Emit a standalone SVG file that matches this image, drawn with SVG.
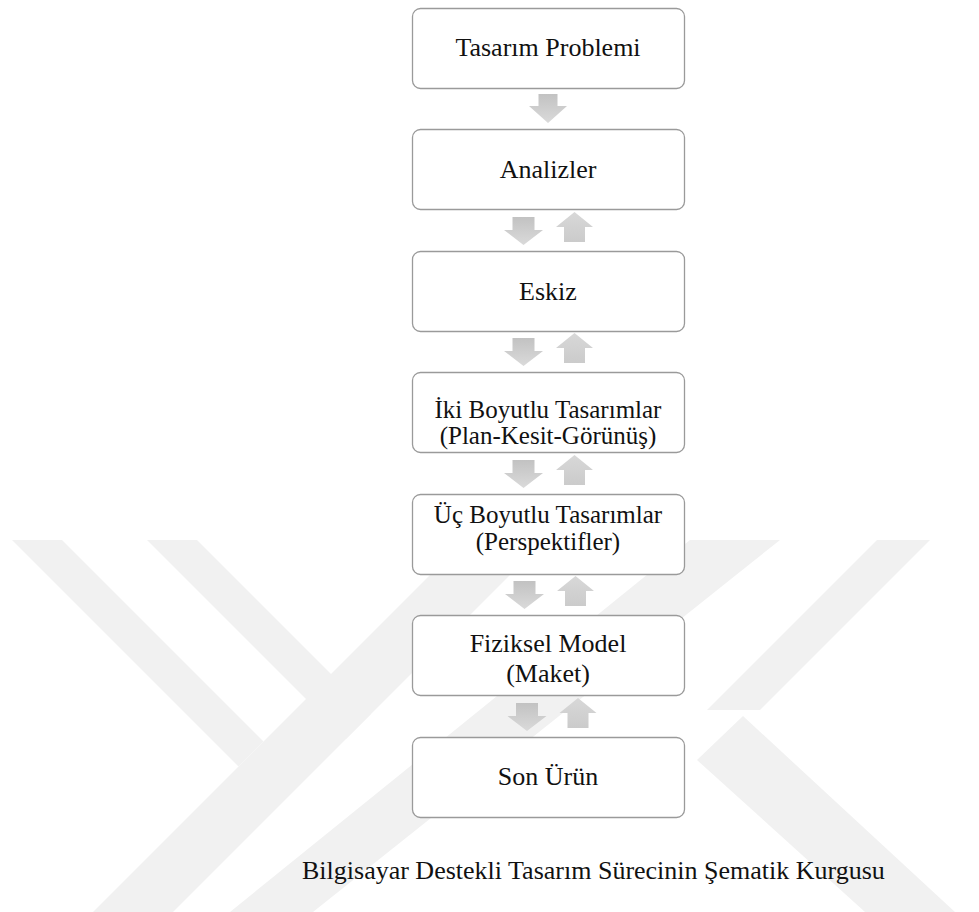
<svg xmlns="http://www.w3.org/2000/svg" width="979" height="912" viewBox="0 0 979 912">
<style>
.box{fill:#fff;stroke:#9a9a9a;stroke-width:1.3}
.t{font-family:"Liberation Serif","Times New Roman",serif;font-size:26px;fill:#111;text-anchor:middle}
.t2{font-family:"Liberation Serif","Times New Roman",serif;font-size:25px;fill:#111;text-anchor:middle}
.cap{font-family:"Liberation Serif","Times New Roman",serif;font-size:26px;fill:#111}
.wm{fill:#f1f1f1}
</style>
<defs>
<linearGradient id="gd" x1="0" y1="0" x2="0" y2="1"><stop offset="0" stop-color="#c2c2c2"/><stop offset="1" stop-color="#dadada"/></linearGradient>
<linearGradient id="gu" x1="0" y1="0" x2="0" y2="1"><stop offset="0" stop-color="#d8d8d8"/><stop offset="1" stop-color="#cbcbcb"/></linearGradient>
<path id="dn" d="M-11,0 H11 V13 H19.5 L0,28 L-19.5,13 H-11 Z" fill="url(#gd)"/>
<path id="up" d="M0,0 L18.5,15 H10.5 V30 H-10.5 V15 H-18.5 Z" fill="url(#gu)"/>
</defs>
<rect width="979" height="912" fill="#fff"/>
<g id="watermark">
<path class="wm" d="M12,540 H62 L263.5,741.5 L238.5,766.5 Z"/>
<path class="wm" d="M147,540 H197 L371,714 L346,739 Z"/>
<path class="wm" d="M93,912 L465,540 H545 L173,912 Z"/>
<path class="wm" d="M230,912 L690,540 H780 L313,912 Z"/>
<path class="wm" d="M877,540 H930 L760,710 L707,710 Z"/>
<path class="wm" d="M697,760 L743,716 L955,912 H865 Z"/>
</g>
<g id="connectors">
<path d="M-9.5,0 H9.5 V12 H19 L0,29 L-19,12 H-9.5 Z" fill="url(#gd)" transform="translate(548,94)"/>
<use href="#dn" x="523.5" y="217"/><use href="#up" x="574.5" y="212"/>
<use href="#dn" x="523.5" y="338"/><use href="#up" x="574.5" y="333"/>
<use href="#dn" x="523.5" y="460"/><use href="#up" x="574.5" y="455"/>
<use href="#dn" x="524.5" y="581"/><use href="#up" x="575.5" y="576"/>
<use href="#dn" x="527" y="703"/><use href="#up" x="578" y="698"/>
</g>
<g id="n1"><rect class="box" x="412.5" y="8.5" width="272" height="80" rx="8"/><text class="t" x="548" y="56">Tasarım Problemi</text></g>
<g id="n2"><rect class="box" x="412.5" y="129.5" width="272" height="80" rx="8"/><text class="t" x="548" y="178">Analizler</text></g>
<g id="n3"><rect class="box" x="412.5" y="251.5" width="272" height="80" rx="8"/><text class="t" x="548" y="300">Eskiz</text></g>
<g id="n4"><rect class="box" x="412.5" y="372.5" width="272" height="80" rx="8"/><text class="t2" x="548" y="418">İki Boyutlu Tasarımlar</text><text class="t2" x="548" y="444">(Plan-Kesit-Görünüş)</text></g>
<g id="n5"><rect class="box" x="412.5" y="494.5" width="272" height="80" rx="8"/><text class="t2" x="548" y="523">Üç Boyutlu Tasarımlar</text><text class="t2" x="548" y="550">(Perspektifler)</text></g>
<g id="n6"><rect class="box" x="412.5" y="615.5" width="272" height="80" rx="8"/><text class="t" x="548" y="652">Fiziksel Model</text><text class="t" x="548" y="682">(Maket)</text></g>
<g id="n7"><rect class="box" x="412.5" y="737.5" width="272" height="80" rx="8"/><text class="t" x="548" y="785">Son Ürün</text></g>
<text class="cap" x="302" y="879">Bilgisayar Destekli Tasarım Sürecinin Şematik Kurgusu</text>
</svg>
